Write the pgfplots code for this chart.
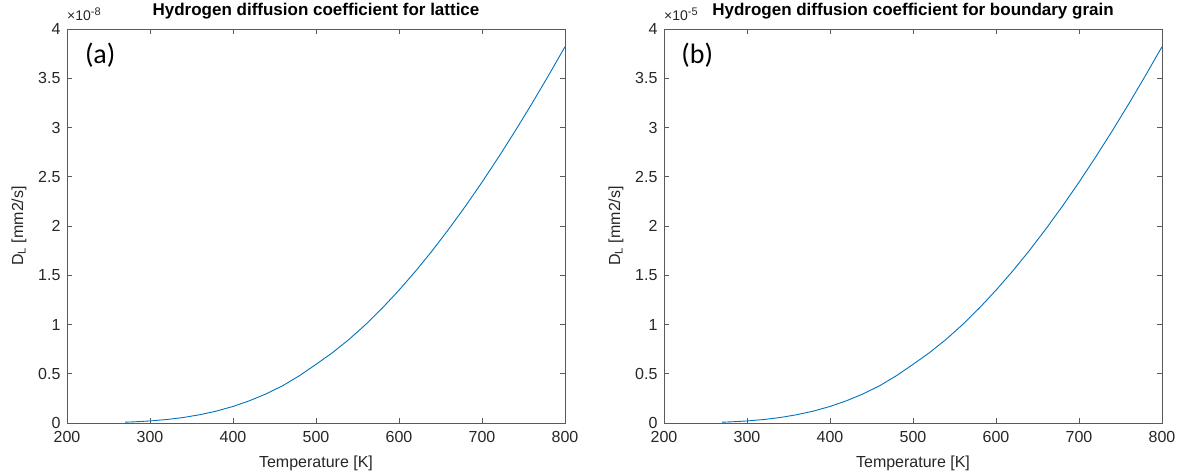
\documentclass[border=0pt]{standalone}
\usepackage{fontspec}
\setmainfont{Liberation Sans}
\newfontfamily\calib{Carlito}
\usepackage{pgfplots}
\usepackage{pgfplotstable}
\pgfplotsset{compat=1.18}
\definecolor{mblue}{RGB}{0,114,189}
\definecolor{mgray}{RGB}{38,38,38}
\definecolor{maxis}{RGB}{90,90,90}

\pgfplotstableread{
T D
270 0.0083
280 0.0115
290 0.0157
300 0.0209
320 0.0352
340 0.0557
360 0.0839
380 0.1208
400 0.1679
420 0.2261
440 0.2961
460 0.3792
480 0.4800
500 0.5950
520 0.7150
540 0.8500
560 1.0010
580 1.1677
600 1.3481
620 1.5418
640 1.7488
660 1.9688
680 2.2007
700 2.4444
720 2.6996
740 2.9651
760 3.2405
780 3.5259
800 3.8200
}\lattice

\pgfplotstableread{
T D
270 0.0083
280 0.0115
290 0.0157
300 0.0209
320 0.0352
340 0.0557
360 0.0839
380 0.1208
400 0.1679
420 0.2261
440 0.2961
460 0.3792
480 0.4800
500 0.5950
520 0.7150
540 0.8500
560 1.0010
580 1.1677
600 1.3481
620 1.5418
640 1.7488
660 1.9688
680 2.2007
700 2.4444
720 2.6996
740 2.9651
760 3.2405
780 3.5259
800 3.8200
}\grain

\pgfplotsset{
  mstyle/.style={
    scale only axis, width=498pt, height=394pt,
    xmin=200, xmax=800, ymin=0, ymax=4,
    xtick={200,300,...,800}, ytick={0,0.5,...,4},
    tick align=inside, xtick pos=both, ytick pos=both,
    xticklabel pos=lower, yticklabel pos=left,
    major tick length=5pt,
    axis line style={maxis, line width=0.7pt},
    every tick/.style={maxis, line width=0.7pt},
    tick label style={font=\fontsize{16}{18}\selectfont, text=mgray},
    xticklabel style={yshift=-5pt},
    yticklabel style={xshift=-3pt},
    /pgf/number format/assume math mode=true,
    scaled y ticks=false,
    xlabel={Temperature [K]},
    xlabel style={font=\fontsize{16}{18}\selectfont, text=mgray, at={(axis description cs:0.5,0)}, anchor=base, yshift=-45pt},
    title style={font=\bfseries\fontsize{17}{19}\selectfont, text=black, at={(axis description cs:0.5,1)}, anchor=base, yshift=7pt},
  }
}

\begin{document}
\begin{tikzpicture}
\useasboundingbox (0,0) rectangle (1181pt,476pt);
\begin{axis}[mstyle, name=ax1, at={(67pt,53pt)}, anchor=south west,
  title={Hydrogen diffusion coefficient for lattice}]
  \addplot[mblue, line width=0.9pt, no marks] table[x=T,y=D] {\lattice};
  \node[anchor=center, font=\calib\fontsize{28}{30}\selectfont] at (axis cs:240,3.73) {(a)};
\end{axis}
\node[rotate=90, anchor=center, font=\fontsize{16}{18}\selectfont, text=mgray] at ([xshift=-48pt]ax1.west) {D\textsubscript{L} [mm2/s]};
\node[anchor=base west, font=\fontsize{14}{15}\selectfont, text=mgray, inner sep=0pt] at ([yshift=8pt]ax1.north west) {×10\raisebox{5.5pt}{\fontsize{11}{12}\selectfont -8}};
\begin{axis}[mstyle, name=ax2, at={(664pt,53pt)}, anchor=south west,
  title={Hydrogen diffusion coefficient for boundary grain}]
  \addplot[mblue, line width=0.9pt, no marks] table[x=T,y=D] {\grain};
  \node[anchor=center, font=\calib\fontsize{28}{30}\selectfont] at (axis cs:240,3.73) {(b)};
\end{axis}
\node[rotate=90, anchor=center, font=\fontsize{16}{18}\selectfont, text=mgray] at ([xshift=-48pt]ax2.west) {D\textsubscript{L} [mm2/s]};
\node[anchor=base west, font=\fontsize{14}{15}\selectfont, text=mgray, inner sep=0pt] at ([yshift=8pt]ax2.north west) {×10\raisebox{5.5pt}{\fontsize{11}{12}\selectfont -5}};
\end{tikzpicture}
\end{document}
